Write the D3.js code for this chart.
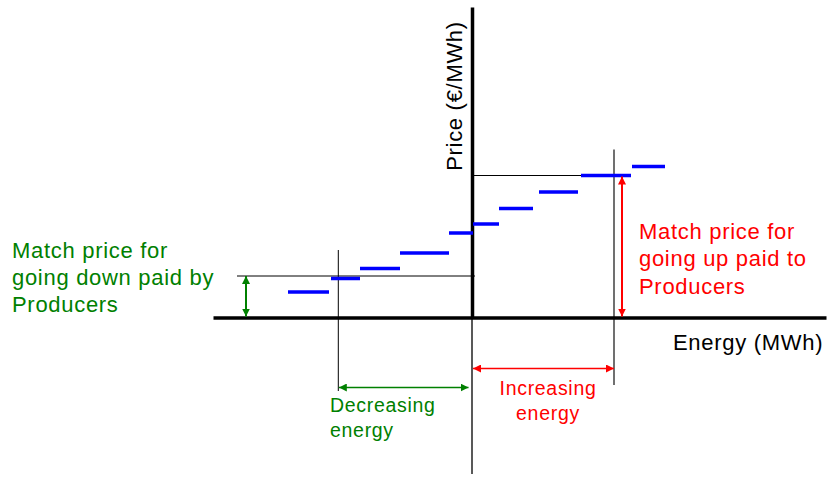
<!DOCTYPE html>
<html>
<head>
<meta charset="utf-8">
<script src="https://cdn.jsdelivr.net/npm/d3@7"></script>
<style>
  html, body { margin: 0; padding: 0; background: #fff; }
  svg { display: block; }
  text { font-family: Arial, "Liberation Sans", sans-serif; letter-spacing: 0.7px; }
</style>
</head>
<body>
<svg id="chart" width="831" height="478"></svg>
<script>
// ---- data (energy in MWh relative to origin, price in €/MWh, arbitrary units) ----
const stepStart = [-184, -141, -112, -72, -23, 1, 27, 67, 109, 160];
const stepEnd   = [-143, -112, -72, -23, 1, 27, 61, 106, 159, 193];
const stepPrice = [25.5, 39, 49, 64.5, 84.5, 93.5, 109, 125.5, 142, 151];
const matchDownPrice = 41.5;
const matchUpPrice = 142;
const decreaseEnergy = -133.7;
const increaseEnergy = 142;
const xAxisLabel = "Energy (MWh)";
const yAxisLabel = "Price (€/MWh)";
const leftLabel = ["Match price for", "going down paid by", "Producers"];
const rightLabel = ["Match price for", "going up paid to", "Producers"];
const decLabel = ["Decreasing", "energy"];
const incLabel = ["Increasing", "energy"];

const svg = d3.select("#chart");
const x = d3.scaleLinear().domain([-259, 354]).range([213, 826]);
const y = d3.scaleLinear().domain([0, 310.5]).range([317.5, 7]);

const GREEN = "#008000", RED = "#ff0000", BLUE = "#0000ff";

// markers
const defs = svg.append("defs");
function marker(id, color) {
  defs.append("marker").attr("id", id)
    .attr("viewBox", "0 0 10 10").attr("refX", 10).attr("refY", 5)
    .attr("markerWidth", 8).attr("markerHeight", 8)
    .attr("markerUnits", "userSpaceOnUse")
    .attr("orient", "auto-start-reverse")
    .append("path").attr("d", "M0,0 L10,5 L0,10 Z").attr("fill", color);
}
marker("ag", GREEN);
marker("ar", RED);

// thin extension of vertical axis below
svg.append("line").attr("x1", x(0)).attr("x2", x(0))
  .attr("y1", y(0)).attr("y2", 474)
  .attr("stroke", "#222").attr("stroke-width", 1.5);

// helper lines
svg.append("line").attr("x1", x(-259 + 24)).attr("x2", x(3))
  .attr("y1", y(matchDownPrice)).attr("y2", y(matchDownPrice))
  .attr("stroke", "#000").attr("stroke-width", 1);
svg.append("line").attr("x1", x(0)).attr("x2", x(increaseEnergy + 1))
  .attr("y1", y(matchUpPrice)).attr("y2", y(matchUpPrice))
  .attr("stroke", "#000").attr("stroke-width", 1);
svg.append("line").attr("x1", x(decreaseEnergy)).attr("x2", x(decreaseEnergy))
  .attr("y1", y(67.5)).attr("y2", 391)
  .attr("stroke", "#000").attr("stroke-width", 1);
svg.append("line").attr("x1", x(increaseEnergy)).attr("x2", x(increaseEnergy))
  .attr("y1", y(168)).attr("y2", 385)
  .attr("stroke", "#707070").attr("stroke-width", 2);

// axes (no ticks)
const gx = svg.append("g").attr("transform", `translate(0,${y(0)})`)
  .call(d3.axisBottom(x).tickValues([]).tickSizeOuter(0));
gx.select(".domain").attr("stroke", "#000").attr("stroke-width", 3.5);
const gy = svg.append("g").attr("transform", `translate(${x(0)},0)`)
  .call(d3.axisLeft(y).tickValues([]).tickSizeOuter(0));
gy.select(".domain").attr("stroke", "#000").attr("stroke-width", 3.5);

// bid steps
svg.append("g").selectAll("line").data(stepPrice).join("line")
  .attr("x1", (d, i) => x(stepStart[i]))
  .attr("x2", (d, i) => x(stepEnd[i]))
  .attr("y1", d => y(d)).attr("y2", d => y(d))
  .attr("stroke", BLUE).attr("stroke-width", 3.5);

// vertical arrows
svg.append("line").attr("x1", x(-226)).attr("x2", x(-226))
  .attr("y1", y(matchDownPrice)).attr("y2", y(0) - 1)
  .attr("stroke", GREEN).attr("stroke-width", 2)
  .attr("marker-start", "url(#ag)").attr("marker-end", "url(#ag)");
svg.append("line").attr("x1", x(150)).attr("x2", x(150))
  .attr("y1", y(matchUpPrice) + 1).attr("y2", y(0) - 1)
  .attr("stroke", RED).attr("stroke-width", 2)
  .attr("marker-start", "url(#ar)").attr("marker-end", "url(#ar)");

// horizontal arrows
svg.append("line").attr("x1", x(decreaseEnergy) + 0.5).attr("x2", x(0) - 3.5)
  .attr("y1", 387.5).attr("y2", 387.5)
  .attr("stroke", GREEN).attr("stroke-width", 1.5)
  .attr("marker-start", "url(#ag)").attr("marker-end", "url(#ag)");
svg.append("line").attr("x1", x(0) + 1).attr("x2", x(increaseEnergy))
  .attr("y1", 368.5).attr("y2", 368.5)
  .attr("stroke", RED).attr("stroke-width", 1.5)
  .attr("marker-start", "url(#ar)").attr("marker-end", "url(#ar)");

// text
function block(lines, xPos, y0, lh, color, size, anchor) {
  const t = svg.append("text").attr("fill", color).attr("font-size", size)
    .attr("text-anchor", anchor || "start");
  lines.forEach((s, i) => t.append("tspan").attr("x", xPos).attr("y", y0 + i * lh).text(s));
  return t;
}
block(leftLabel, 12, 257.5, 27, GREEN, 22);
block(rightLabel, 639, 238.5, 27.5, RED, 22);
block([xAxisLabel], 673, 349.5, 0, "#000", 22);
block(decLabel, 330, 411.5, 25, GREEN, 19.5);
block(incLabel, 548, 395, 25, RED, 19.5, "middle");

svg.append("text").attr("fill", "#000").attr("font-size", 22)
  .attr("text-anchor", "middle")
  .attr("transform", "translate(462,96) rotate(-90)")
  .text(yAxisLabel);
</script>
</body>
</html>
